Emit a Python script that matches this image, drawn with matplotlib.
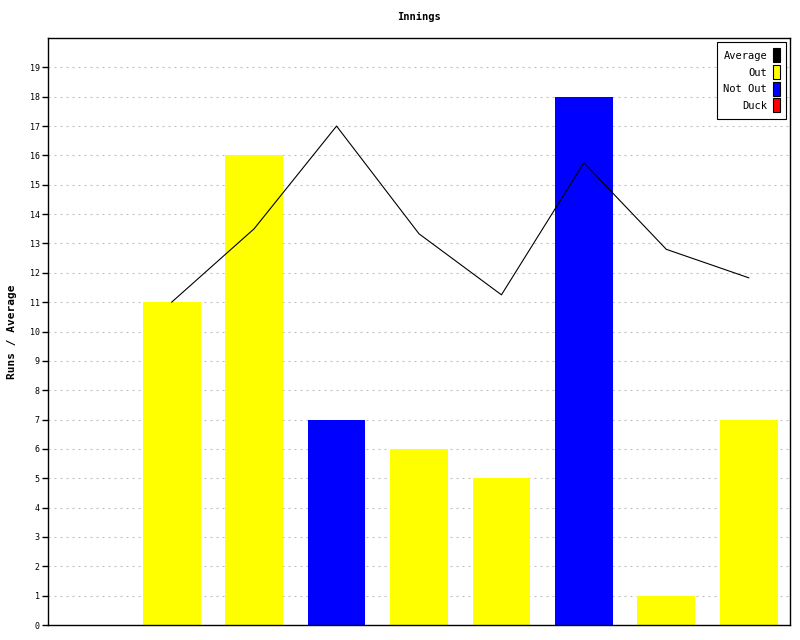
import matplotlib.pyplot as plt
from matplotlib.patches import Patch

# innings data
innings = [1, 2, 3, 4, 5, 6, 7, 8]
runs = [11, 16, 7, 6, 5, 18, 1, 7]
status = ["Out", "Out", "Not Out", "Out", "Out", "Not Out", "Out", "Out"]
average = [11, 13.5, 17, 13.33, 11.25, 15.75, 12.8, 11.83]

colors = {"Average": "#000000", "Out": "#ffff00", "Not Out": "#0000ff", "Duck": "#ff0000"}

plt.rcParams["font.family"] = "DejaVu Sans Mono"

fig = plt.figure(figsize=(8, 6.4), dpi=100)
ax = fig.add_axes([0.06, 0.0234, 0.9275, 0.9172])

ax.bar(innings, runs, width=0.7, color=[colors[s] for s in status], zorder=2)
ax.plot(innings, average, color="black", linewidth=0.8, zorder=3)

ax.set_xlim(-0.5, 8.5)
ax.set_ylim(0, 20)
ax.set_yticks(range(0, 20))
ax.set_xticks([])
ax.tick_params(axis="y", labelsize=6, length=4, width=1, pad=2)
ax.grid(axis="y", color="#c0c0c0", linestyle=(0, (1.8, 3.6)), linewidth=0.8, zorder=0)
for sp in ax.spines.values():
    sp.set_linewidth(1)

ax.set_title("Innings", fontsize=7.5, fontweight="bold", pad=13)
ax.set_ylabel("Runs / Average", fontsize=8, fontweight="bold", labelpad=9)

handles = [Patch(facecolor=c, edgecolor="black", linewidth=0.8) for c in colors.values()]
leg = ax.legend(handles, list(colors.keys()), loc="upper right", markerfirst=False,
                fontsize=7.5, handlelength=0.6, handleheight=1.7, handletextpad=0.6,
                labelspacing=0.25, borderpad=0.6, fancybox=False, framealpha=1,
                edgecolor="black", borderaxespad=0.4)
leg.get_frame().set_linewidth(0.8)

fig.savefig("out.png", dpi=100)
